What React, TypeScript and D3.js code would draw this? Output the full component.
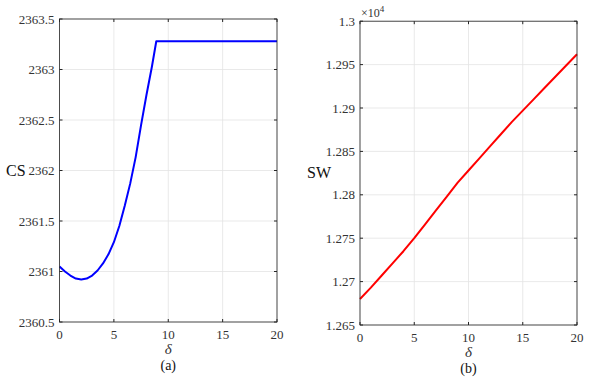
import { useEffect, useRef } from "react";
import * as d3 from 'd3';

// (a) consumer surplus vs delta
const csDelta = [0, 0.5, 1, 1.5, 2, 2.5, 3, 3.5, 4, 4.5, 5, 5.5, 6, 6.5, 7, 7.5, 8, 8.5, 8.9, 20];
const csValue = [2361.05, 2361.0, 2360.96, 2360.93, 2360.92, 2360.93, 2360.96, 2361.01, 2361.08, 2361.17,
    2361.29, 2361.45, 2361.65, 2361.87, 2362.13, 2362.45, 2362.75, 2363.03, 2363.28, 2363.28];
const csTicks = [2360.5, 2361, 2361.5, 2362, 2362.5, 2363, 2363.5];

// (b) social welfare vs delta (x10^4)
const swDelta = [0, 1, 2, 3, 4, 5, 6, 7, 8, 9, 10, 11, 12, 13, 14, 15, 16, 17, 18, 19, 20];
const swValue = [1.268, 1.2693, 1.2707, 1.2721, 1.2735, 1.275, 1.2766, 1.2782, 1.2798, 1.2814, 1.2828,
    1.2842, 1.2856, 1.287, 1.2884, 1.2897, 1.291, 1.2923, 1.2936, 1.2949, 1.2962];
const swTicks = [1.265, 1.27, 1.275, 1.28, 1.285, 1.29, 1.295, 1.3];

const xTicks = [0, 5, 10, 15, 20];

const FONT = 'Liberation Serif, DejaVu Serif, Times New Roman, serif';

function drawPanel(svg: d3.Selection<SVGSVGElement, unknown, null, undefined>, opt: {
    left: number, right: number, top: number, bottom: number,
    xs: number[], ys: number[], yDomain: [number, number], yTicks: number[],
    color: string, yLabel: string, yLabelX: number, caption: string, exponent?: boolean,
}) {
    const x = d3.scaleLinear().domain([0, 20]).range([opt.left, opt.right]);
    const y = d3.scaleLinear().domain(opt.yDomain).range([opt.bottom, opt.top]);
    const g = svg.append('g');
    const axisColor = '#262626';

    // grid
    g.selectAll('.gx').data(xTicks).join('line')
        .attr('class', 'gx')
        .attr('x1', d => x(d)).attr('x2', d => x(d))
        .attr('y1', opt.top).attr('y2', opt.bottom)
        .attr('stroke', '#e3e3e3').attr('stroke-width', 0.8);
    g.selectAll('.gy').data(opt.yTicks).join('line')
        .attr('class', 'gy')
        .attr('x1', opt.left).attr('x2', opt.right)
        .attr('y1', d => y(d)).attr('y2', d => y(d))
        .attr('stroke', '#e3e3e3').attr('stroke-width', 0.8);

    // line
    const line = d3.line<number>().x((_, i) => x(opt.xs[i])).y(d => y(d));
    g.append('path')
        .attr('d', line(opt.ys))
        .attr('fill', 'none')
        .attr('stroke', opt.color)
        .attr('stroke-width', 2)
        .attr('stroke-linejoin', 'round');

    // box
    g.append('rect')
        .attr('x', opt.left).attr('y', opt.top)
        .attr('width', opt.right - opt.left).attr('height', opt.bottom - opt.top)
        .attr('fill', 'none').attr('stroke', axisColor).attr('stroke-width', 0.8);

    // ticks inward on all sides
    const tl = 3;
    xTicks.forEach(t => {
        g.append('line').attr('x1', x(t)).attr('x2', x(t)).attr('y1', opt.bottom).attr('y2', opt.bottom - tl).attr('stroke', axisColor);
        g.append('line').attr('x1', x(t)).attr('x2', x(t)).attr('y1', opt.top).attr('y2', opt.top + tl).attr('stroke', axisColor);
        g.append('text').attr('x', x(t)).attr('y', opt.bottom + 17)
            .attr('text-anchor', 'middle').attr('font-family', FONT).attr('font-size', 13)
            .attr('fill', '#333').text(t);
    });
    opt.yTicks.forEach(t => {
        g.append('line').attr('x1', opt.left).attr('x2', opt.left + tl).attr('y1', y(t)).attr('y2', y(t)).attr('stroke', axisColor);
        g.append('line').attr('x1', opt.right).attr('x2', opt.right - tl).attr('y1', y(t)).attr('y2', y(t)).attr('stroke', axisColor);
        g.append('text').attr('x', opt.left - 5).attr('y', y(t)).attr('dy', '0.35em')
            .attr('text-anchor', 'end').attr('font-family', FONT).attr('font-size', 13)
            .attr('fill', '#333').text(String(t));
    });

    const cx = (opt.left + opt.right) / 2;
    g.append('text').attr('x', cx).attr('y', opt.bottom + 32)
        .attr('text-anchor', 'middle').attr('font-family', FONT).attr('font-style', 'italic')
        .attr('font-size', 15).attr('fill', '#333').text('δ');
    g.append('text').attr('x', cx).attr('y', opt.bottom + 48)
        .attr('text-anchor', 'middle').attr('font-family', FONT)
        .attr('font-size', 14).attr('fill', '#111').text(opt.caption);
    g.append('text').attr('x', opt.yLabelX).attr('y', (opt.top + opt.bottom) / 2 + 5)
        .attr('font-family', FONT).attr('font-size', 16).attr('fill', '#111').text(opt.yLabel);

    if (opt.exponent) {
        const t = g.append('text').attr('x', opt.left + 1).attr('y', opt.top - 4)
            .attr('font-family', FONT).attr('font-size', 12).attr('fill', '#333');
        t.append('tspan').text('×10');
        t.append('tspan').attr('dy', -5).attr('font-size', 9).text('4');
    }
}

export default function App() {
    const svgEl = useRef<SVGSVGElement>(null);

    useEffect(() => {
        if (!svgEl.current) return;
        const svg = d3.select(svgEl.current);
        svg.selectChildren().remove();
        drawPanel(svg, {
            left: 59.5, right: 277, top: 19, bottom: 322,
            xs: csDelta, ys: csValue, yDomain: [2360.5, 2363.5], yTicks: csTicks,
            color: '#0000ff', yLabel: 'CS', yLabelX: 6, caption: '(a)',
        });
        drawPanel(svg, {
            left: 360, right: 577, top: 21.2, bottom: 325,
            xs: swDelta, ys: swValue, yDomain: [1.265, 1.3], yTicks: swTicks,
            color: '#ff0000', yLabel: 'SW', yLabelX: 307, caption: '(b)', exponent: true,
        });
    }, []);

    return <div style={{ position: 'fixed', left: 0, top: 0 }}>
        <svg ref={svgEl} width={590} height={382} style={{ display: 'block', background: '#fff' }} />
    </div>;
}
